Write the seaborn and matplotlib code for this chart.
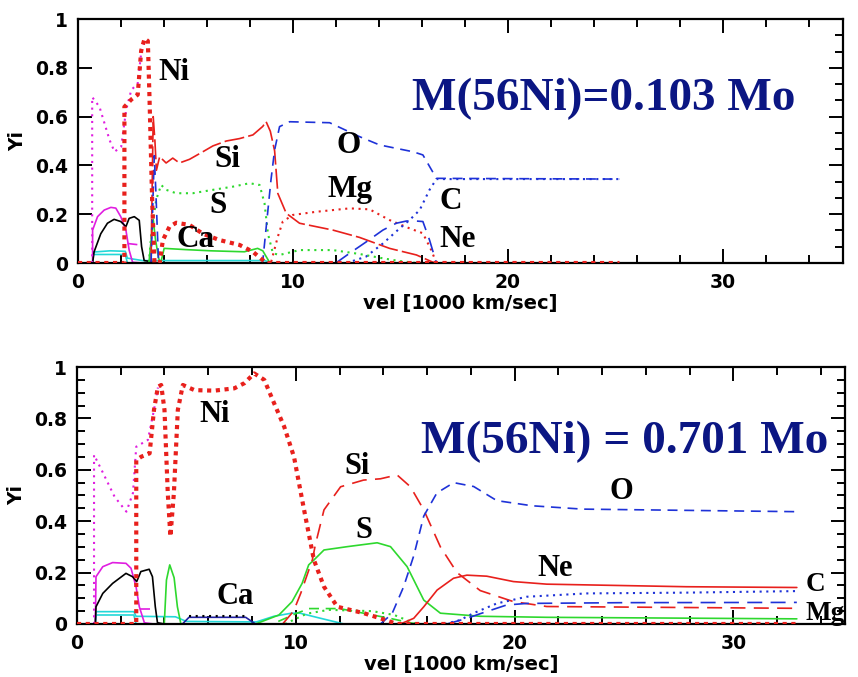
import numpy as np
import matplotlib
matplotlib.use("Agg")
import matplotlib.pyplot as plt
from matplotlib.ticker import MultipleLocator, FixedLocator, FixedFormatter
import seaborn as sns

# ---------------- TOP PANEL DATA (vel in 1000 km/s, Yi) ----------------
top_ni_x = [0.0, 2.16, 2.16, 2.48, 2.78, 2.94, 3.10, 3.25, 3.33, 3.45, 3.56, 3.80, 3.95, 4.26, 4.57, 5.19, 5.81, 6.59, 7.52, 8.14, 8.60, 8.75, 25.2]
top_ni_y = [0.0, 0.0, 0.64, 0.67, 0.69, 0.87, 0.92, 0.91, 0.67, 0.26, 0.0, 0.0, 0.094, 0.149, 0.165, 0.156, 0.12, 0.094, 0.074, 0.046, 0.012, 0.0, 0.0]

top_co_x = [0.66, 0.66, 1.0, 1.47, 1.70, 2.01, 2.24, 2.48, 2.78, 2.94, 3.10]
top_co_y = [0.0, 0.68, 0.64, 0.504, 0.456, 0.477, 0.627, 0.709, 0.736, 0.86, 0.91]

top_si_x = [3.40, 3.50, 3.58, 3.65, 3.80, 4.10, 4.41, 4.72, 5.19, 5.81, 6.28, 6.90, 7.52, 8.14, 8.60, 8.75, 8.95, 9.15, 9.30, 9.69, 10.31, 11.86, 13.10, 14.50, 15.75, 16.60]
top_si_y = [0.0, 0.60, 0.50, 0.38, 0.436, 0.41, 0.43, 0.41, 0.425, 0.456, 0.48, 0.50, 0.51, 0.525, 0.56, 0.58, 0.54, 0.46, 0.285, 0.204, 0.163, 0.135, 0.105, 0.06, 0.033, 0.0]

top_s_x = [3.30, 3.41, 3.64, 3.87, 4.10, 4.57, 5.34, 6.28, 7.21, 7.98, 8.45, 8.68, 8.84, 9.07, 9.38, 10.31, 11.86, 13.10, 14.20, 14.97, 15.75]
top_s_y = [0.0, 0.12, 0.26, 0.32, 0.30, 0.286, 0.286, 0.30, 0.313, 0.327, 0.32, 0.245, 0.12, 0.04, 0.033, 0.053, 0.053, 0.037, 0.019, 0.008, 0.0]

top_g2_x = [3.30, 3.50, 3.60, 3.75, 3.85, 4.01, 5.0, 6.18, 7.74, 8.36, 8.60, 8.90]
top_g2_y = [0.0, 0.18, 0.10, 0.02, 0.0, 0.06, 0.055, 0.05, 0.046, 0.06, 0.05, 0.005]

top_o_x = [3.40, 3.55, 3.62, 3.75, 8.59, 8.98, 9.15, 9.38, 9.85, 11.71, 13.10, 14.03, 15.59, 16.05, 16.68, 25.2]
top_o_y = [0.0, 0.44, 0.30, 0.0, 0.0, 0.34, 0.463, 0.559, 0.579, 0.575, 0.518, 0.484, 0.456, 0.443, 0.347, 0.344]

top_mg_x = [8.99, 9.30, 9.53, 10.0, 11.09, 12.64, 13.57, 14.50, 15.43, 16.05, 16.44, 16.68]
top_mg_y = [0.005, 0.108, 0.17, 0.197, 0.21, 0.224, 0.22, 0.176, 0.142, 0.122, 0.053, 0.0]

top_c_x = [12.5, 13.4, 14.19, 14.97, 15.43, 15.90, 16.36, 16.68, 25.2]
top_c_y = [0.0, 0.026, 0.08, 0.142, 0.176, 0.217, 0.30, 0.344, 0.344]

top_ne_x = [12.0, 12.64, 13.42, 14.19, 14.81, 15.28, 15.75, 16.05, 16.36, 16.68]
top_ne_y = [0.0, 0.04, 0.087, 0.135, 0.163, 0.172, 0.172, 0.17, 0.094, 0.0]

top_mag_x = [0.68, 0.68, 0.91, 1.22, 1.53, 1.76, 1.99, 2.23, 2.38, 2.54, 3.0]
top_mag_y = [0.0, 0.135, 0.19, 0.217, 0.228, 0.225, 0.19, 0.135, 0.053, 0.003, 0.0]

top_blk_x = [0.68, 0.75, 1.06, 1.37, 1.68, 1.99, 2.23, 2.38, 2.62, 2.85, 2.96, 3.08, 3.30, 3.6]
top_blk_y = [0.0, 0.046, 0.12, 0.163, 0.179, 0.17, 0.149, 0.183, 0.19, 0.175, 0.067, 0.01, 0.007, 0.0]

top_cy1_x = [0.68, 0.72, 1.5, 2.2, 2.3, 3.0, 8.7, 9.0]
top_cy1_y = [0.0, 0.045, 0.05, 0.048, 0.02, 0.01, 0.01, 0.0]
top_cy2_x = [0.68, 0.72, 2.2, 2.3]
top_cy2_y = [0.0, 0.035, 0.035, 0.0]
top_magd_x = [2.3, 2.8]
top_magd_y = [0.08, 0.075]

# ---------------- BOTTOM PANEL DATA ----------------
bot_ni_x = [0.0, 2.71, 2.71, 2.94, 3.32, 3.52, 3.70, 3.85, 4.00, 4.15, 4.27, 4.43, 4.61, 4.84, 5.37, 6.28, 7.19, 7.65, 8.10, 8.56, 9.01, 9.47, 9.92, 10.38, 10.83, 11.29, 11.90, 13.11, 13.87, 14.63, 32.9]
bot_ni_y = [0.0, 0.0, 0.638, 0.651, 0.664, 0.833, 0.923, 0.93, 0.833, 0.51, 0.34, 0.51, 0.833, 0.93, 0.91, 0.908, 0.917, 0.937, 0.975, 0.95, 0.859, 0.768, 0.650, 0.444, 0.249, 0.145, 0.067, 0.042, 0.022, 0.0, 0.0]

bot_co_x = [0.78, 0.78, 1.12, 1.72, 2.26, 2.56, 2.71, 3.24, 3.52, 3.70]
bot_co_y = [0.0, 0.658, 0.60, 0.495, 0.437, 0.51, 0.69, 0.716, 0.833, 0.92]

bot_mag_x = [0.84, 0.87, 1.18, 1.63, 2.24, 2.47, 2.70, 2.85, 3.08, 3.5]
bot_mag_y = [0.0, 0.184, 0.223, 0.239, 0.236, 0.217, 0.145, 0.067, 0.005, 0.0]

bot_blk_x = [0.84, 0.87, 1.18, 1.63, 2.24, 2.54, 2.73, 2.92, 3.30, 3.45, 3.58, 3.68, 4.0]
bot_blk_y = [0.0, 0.067, 0.119, 0.158, 0.197, 0.184, 0.165, 0.204, 0.213, 0.184, 0.067, 0.005, 0.0]

bot_s_x = [3.99, 4.09, 4.24, 4.44, 4.59, 4.75, 8.16, 9.23, 9.83, 10.29, 10.59, 10.83, 11.29, 12.36, 13.72, 14.33, 15.09, 15.85, 16.61, 18.43, 21.47, 32.9]
bot_s_y = [0.0, 0.171, 0.23, 0.18, 0.067, 0.0, 0.0, 0.035, 0.087, 0.158, 0.23, 0.249, 0.288, 0.301, 0.316, 0.301, 0.223, 0.093, 0.042, 0.03, 0.026, 0.02]

bot_si_x = [9.40, 9.90, 10.23, 10.76, 10.90, 11.29, 12.05, 13.10, 13.87, 14.63, 15.24, 15.85, 16.61, 17.37, 18.43, 19.95, 21.47, 32.9]
bot_si_y = [0.0, 0.05, 0.12, 0.25, 0.31, 0.444, 0.534, 0.56, 0.565, 0.58, 0.534, 0.444, 0.30, 0.20, 0.13, 0.087, 0.068, 0.061]

bot_o_x = [13.87, 14.40, 14.93, 15.39, 15.85, 16.45, 17.22, 18.13, 19.19, 20.80, 23.10, 32.9]
bot_o_y = [0.0, 0.04, 0.145, 0.265, 0.42, 0.51, 0.55, 0.535, 0.48, 0.46, 0.447, 0.437]

bot_ne_x = [14.78, 15.39, 15.85, 16.46, 17.21, 17.82, 18.73, 19.95, 21.47, 27.85, 32.9]
bot_ne_y = [0.0, 0.022, 0.067, 0.132, 0.178, 0.19, 0.186, 0.165, 0.155, 0.145, 0.142]

bot_c_x = [16.8, 17.5, 18.12, 19.19, 20.56, 23.3, 27.85, 32.9]
bot_c_y = [0.0, 0.015, 0.042, 0.08, 0.106, 0.119, 0.122, 0.128]

bot_mg_x = [16.91, 17.82, 18.43, 19.64, 20.56, 25.0, 32.9]
bot_mg_y = [0.0, 0.022, 0.04, 0.074, 0.08, 0.083, 0.084]

bot_gd_x = [9.2, 10.0, 10.6, 12.0, 13.1, 14.3, 15.5]
bot_gd_y = [0.01, 0.04, 0.06, 0.06, 0.042, 0.022, 0.0]
bot_gdot_x = [9.5, 10.5, 11.5, 13.5, 14.5, 15.5]
bot_gdot_y = [0.0, 0.04, 0.055, 0.05, 0.035, 0.0]

bot_cy1_x = [0.84, 0.87, 2.6, 2.7, 4.5, 5.0, 8.2, 9.0, 9.8, 10.2, 11.0, 12.2]
bot_cy1_y = [0.0, 0.048, 0.048, 0.03, 0.028, 0.01, 0.008, 0.03, 0.042, 0.042, 0.025, 0.0]
bot_cy2_x = [0.84, 0.87, 2.6, 2.7]
bot_cy2_y = [0.0, 0.035, 0.035, 0.0]
bot_magd_x = [2.9, 3.4]
bot_magd_y = [0.06, 0.06]
bot_ca_x = [4.82, 5.12, 7.71, 8.16]
bot_ca_y = [0.0, 0.026, 0.026, 0.0]
bot_cadot_x = [5.1, 7.7]
bot_cadot_y = [0.033, 0.033]

top_labels = ["Ni", "Si", "S", "Ca", "O", "Mg", "C", "Ne"]
top_label_x = [4.45, 6.94, 6.52, 5.49, 12.6, 12.66, 17.33, 17.67]
top_label_y = [0.75, 0.395, 0.204, 0.067, 0.45, 0.272, 0.22, 0.064]
bot_labels = ["Ni", "Ca", "Si", "S", "Ne", "O", "C", "Mg"]
bot_label_x = [6.31, 7.22, 12.81, 13.09, 21.85, 24.88, 33.74, 34.19]
bot_label_y = [0.787, 0.077, 0.582, 0.336, 0.187, 0.485, 0.13, 0.016]
top_title = "M(56Ni)=0.103 Mo"
bot_title = "M(56Ni) = 0.701 Mo"

# ---------------- STYLE ----------------
sns.set_style("white")
plt.rcParams["font.family"] = ["DejaVu Sans"]
plt.rcParams["text.color"] = "black"
plt.rcParams["axes.labelcolor"] = "black"
plt.rcParams["xtick.color"] = "black"
plt.rcParams["ytick.color"] = "black"

RED = "#e8201c"
BLUE = "#1e32d8"
GREEN = "#2ed82e"
MAG = "#e01ee0"
CYAN = "#22d8d8"
NAVY = "#0b1683"

DOT_THICK = (0, (1, 1.1))
DOT = (0, (1, 2.2))
DASH = (0, (6, 4))
LDASH = (0, (9, 5))
LDASH_TIGHT = (0, (12, 2.5))

fig = plt.figure(figsize=(8.58, 6.77), dpi=100)
ax1 = fig.add_axes([0.0909, 0.6115, 0.8916, 0.3604])
ax2 = fig.add_axes([0.0897, 0.0783, 0.8951, 0.3796])


def line(ax, x, y, color, ls="-", lw=1.2, z=2):
    sns.lineplot(x=np.asarray(x), y=np.asarray(y), ax=ax, sort=False, estimator=None,
                 color=color, linestyle=ls, linewidth=lw, zorder=z)


# top panel
line(ax1, top_cy1_x, top_cy1_y, CYAN)
line(ax1, top_cy2_x, top_cy2_y, CYAN)
line(ax1, top_magd_x, top_magd_y, MAG, DASH)
line(ax1, top_mag_x, top_mag_y, MAG)
line(ax1, top_blk_x, top_blk_y, "black")
line(ax1, top_co_x, top_co_y, MAG, DOT, 1.5)
line(ax1, top_g2_x, top_g2_y, GREEN)
line(ax1, top_s_x, top_s_y, GREEN, DOT, 1.5)
line(ax1, top_si_x, top_si_y, RED, LDASH_TIGHT)
line(ax1, top_mg_x, top_mg_y, RED, DOT, 1.5)
line(ax1, top_ne_x, top_ne_y, BLUE, LDASH)
line(ax1, top_c_x, top_c_y, BLUE, DOT, 1.5)
line(ax1, top_o_x, top_o_y, BLUE, DASH)
line(ax1, top_ni_x, top_ni_y, RED, DOT_THICK, 3.0, 3)

# bottom panel
line(ax2, bot_cy1_x, bot_cy1_y, CYAN)
line(ax2, bot_cy2_x, bot_cy2_y, CYAN)
line(ax2, bot_magd_x, bot_magd_y, MAG, DASH)
line(ax2, bot_ca_x, bot_ca_y, "#2020a0")
line(ax2, bot_cadot_x, bot_cadot_y, "black", DOT, 1.5)
line(ax2, bot_mag_x, bot_mag_y, MAG)
line(ax2, bot_blk_x, bot_blk_y, "black")
line(ax2, bot_co_x, bot_co_y, MAG, DOT, 1.5)
line(ax2, bot_gd_x, bot_gd_y, GREEN, DASH)
line(ax2, bot_gdot_x, bot_gdot_y, GREEN, DOT, 1.5)
line(ax2, bot_s_x, bot_s_y, GREEN)
line(ax2, bot_si_x, bot_si_y, RED, LDASH)
line(ax2, bot_ne_x, bot_ne_y, RED)
line(ax2, bot_c_x, bot_c_y, BLUE, DOT, 1.5)
line(ax2, bot_mg_x, bot_mg_y, BLUE, LDASH)
line(ax2, bot_o_x, bot_o_y, BLUE, DASH)
line(ax2, bot_ni_x, bot_ni_y, RED, DOT_THICK, 3.0, 3)


def style_axes(ax, xmax, yminor):
    ax.set_xlim(0, xmax)
    ax.set_ylim(0, 1)
    ax.xaxis.set_major_locator(FixedLocator([0, 10, 20, 30]))
    ax.xaxis.set_major_formatter(FixedFormatter(["0", "10", "20", "30"]))
    ax.xaxis.set_minor_locator(MultipleLocator(2))
    ax.yaxis.set_major_locator(FixedLocator([0, 0.2, 0.4, 0.6, 0.8, 1.0]))
    ax.yaxis.set_major_formatter(FixedFormatter(["0", "0.2", "0.4", "0.6", "0.8", "1"]))
    ax.yaxis.set_minor_locator(MultipleLocator(yminor))
    ax.tick_params(which="both", direction="in", top=True, right=True,
                   bottom=True, left=True, width=1.4, colors="black")
    ax.tick_params(which="major", length=10, pad=7, labelsize=13.5)
    ax.tick_params(which="minor", length=5.5)
    for lab in ax.get_xticklabels() + ax.get_yticklabels():
        lab.set_fontweight("bold")
        lab.set_color("black")
    for sp in ax.spines.values():
        sp.set_linewidth(1.6)
        sp.set_color("black")
    ax.set_xlabel("vel [1000 km/sec]", fontsize=14, fontweight="bold", labelpad=1.5,
                  color="black")
    ax.set_ylabel("Yi", fontsize=13.5, fontweight="bold", labelpad=6, color="black")
    ax.set_facecolor("white")


style_axes(ax1, 35.6, 0.2 / 3)
ax1.tick_params(axis="y", which="minor", left=False, right=True)
style_axes(ax2, 35.1, 0.05)

SERIF = ["Liberation Serif", "DejaVu Serif"]
for t, x, y in zip(top_labels, top_label_x, top_label_y):
    ax1.text(x, y, t, ha="center", va="baseline", fontsize=22.5, fontweight="bold",
             family=SERIF, color="black", zorder=5)
for t, x, y in zip(bot_labels, bot_label_x, bot_label_y):
    fs = 19.5 if t in ("C", "Mg") and x > 30 else 22
    ax2.text(x, y, t, ha="center", va="baseline", fontsize=fs, fontweight="bold",
             family=SERIF, color="black", zorder=5, clip_on=False)
ax1.text(24.46, 0.625, top_title, ha="center", va="baseline", fontsize=34,
         fontweight="bold", family=SERIF, color=NAVY, zorder=5)
ax2.text(25.04, 0.664, bot_title, ha="center", va="baseline", fontsize=34,
         fontweight="bold", family=SERIF, color=NAVY, zorder=5)

fig.savefig("out.png", dpi=100, facecolor="white")
